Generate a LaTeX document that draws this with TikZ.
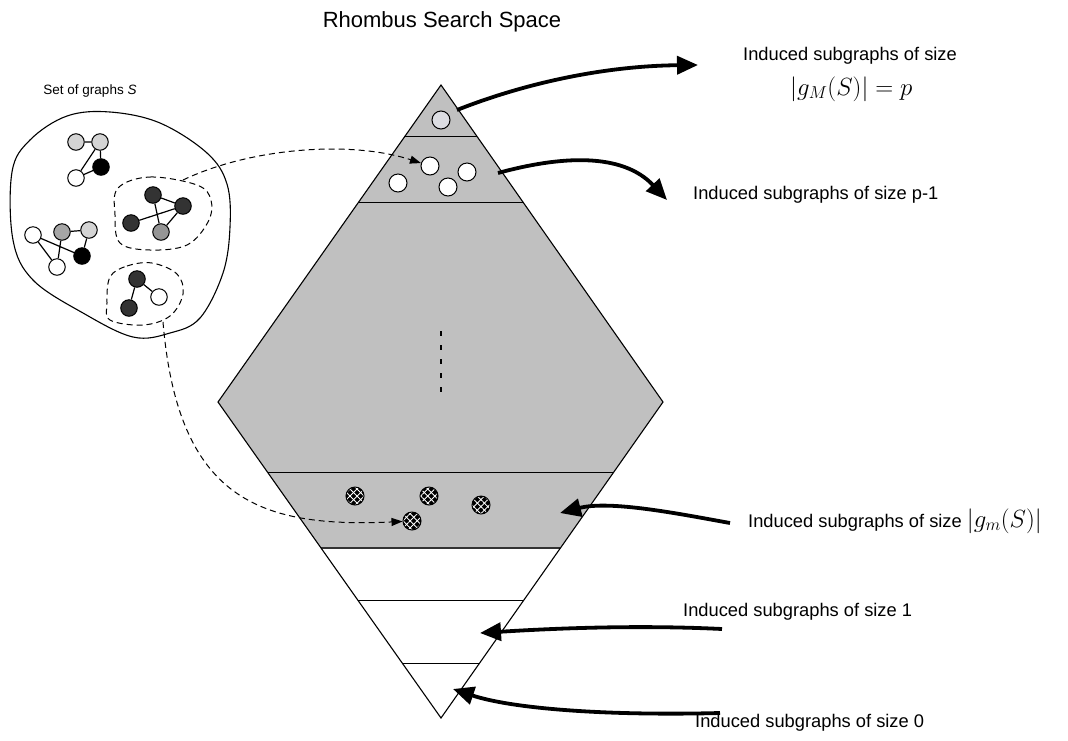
\documentclass[tikz,border=0pt]{standalone}
\usepackage[no-math]{fontspec}
\setmainfont{Liberation Sans}
\usetikzlibrary{calc,arrows.meta,patterns.meta}

\definecolor{rhgray}{HTML}{C0C0C0}
\definecolor{palegray}{HTML}{DCDDE2}
\definecolor{lightv}{HTML}{D4D4D4}
\definecolor{midv}{HTML}{A6A6A6}
\definecolor{darkv}{HTML}{333333}

\begin{document}
\begin{tikzpicture}[x=1pt,y=-1pt,
  rim/.style={line width=1.1pt},
  band/.style={line width=1pt},
  dot/.style={circle,draw,line width=1pt,minimum size=18pt,inner sep=0pt,fill=white},
  vx/.style={circle,draw,line width=1pt,minimum size=16.5pt,inner sep=0pt},
  edge/.style={line width=1.2pt},
  hatch/.style={circle,draw,line width=1pt,minimum size=18pt,inner sep=0pt,fill=black,
    path picture={
      \fill[pattern={Lines[angle=45,distance=5pt,line width=0.9pt]},pattern color=white]
        (path picture bounding box.south west) rectangle (path picture bounding box.north east);
      \fill[pattern={Lines[angle=-45,distance=5pt,line width=0.9pt]},pattern color=white]
        (path picture bounding box.south west) rectangle (path picture bounding box.north east);}},
  bigarrow/.style={line width=3.8pt,-{Triangle[length=21pt,width=18pt]}},
  dasharrow/.style={line width=1pt,dash pattern=on 6pt off 4pt,-{Triangle[length=11pt,width=8pt]}},
  lbl/.style={font=\fontsize{18.3}{21}\selectfont,anchor=west,inner sep=0pt},
  grp/.style={line width=1pt,dash pattern=on 6pt off 4pt}
]
\useasboundingbox (0,0) rectangle (1068,740);

% ---- the rhombus ----
\coordinate (T) at (441,85);
\coordinate (L) at (218,402);
\coordinate (R) at (663,402);
\coordinate (B) at (441,718);

\fill[rhgray] (T) -- (R) -- ($(B)!0.538!(R)$) -- ($(B)!0.538!(L)$) -- (L) -- cycle;
\draw[band] ($(T)!0.164!(L)$) -- ($(T)!0.164!(R)$);
\draw[band] ($(T)!0.372!(L)$) -- ($(T)!0.372!(R)$);
\draw[band] ($(B)!0.778!(L)$) -- ($(B)!0.778!(R)$);
\draw[line width=1.7pt,black!80] ($(B)!0.538!(L)$) -- ($(B)!0.538!(R)$);
\draw[band] ($(B)!0.373!(L)$) -- ($(B)!0.373!(R)$);
\draw[band] ($(B)!0.174!(L)$) -- ($(B)!0.174!(R)$);
\draw[rim,line join=miter] (T) -- (R) -- (B) -- (L) -- cycle;

% vertical ellipsis
\draw[line width=2.2pt,dash pattern=on 5pt off 9pt] (441,331) -- (441,396);

% subgraphs of the top bands
\node[dot,fill=palegray] (top) at (441,120) {};
\node[dot] (w1) at (430,166) {};
\node[dot] (w2) at (398,183) {};
\node[dot] (w3) at (448,187) {};
\node[dot] (w4) at (467,172) {};

% subgraphs of size |g_m(S)|
\node[hatch] (x1) at (355,496) {};
\node[hatch] (x2) at (429,496) {};
\node[hatch] (x3) at (481,505) {};
\node[hatch] (x4) at (412,521) {};

% ---- the set of graphs S ----
\node[font=\fontsize{13.5}{16}\selectfont] (setS) at (90,91) {Set of graphs \textit{S}};
\draw[line width=1.1pt] plot[smooth cycle,tension=0.6] coordinates {
  (12,172) (30,140) (67,116) (110,112) (160,123) (207,153) (227,184) (230,227)
  (223,273) (200,318) (170,333) (133,337) (83,313) (33,280) (13,240)};

\draw[grp] plot[smooth cycle,tension=0.6] coordinates {
  (118,188) (150,177) (197,185) (211,200) (208,222) (187,245) (150,250) (120,243) (115,215)};
\draw[grp] plot[smooth cycle,tension=0.6] coordinates {
  (110,277) (127,266) (152,263) (177,274) (183,294) (170,316) (143,325) (110,320) (107,303)};

% graph 1
\node[vx,fill=lightv] (a) at (76,142) {};
\node[vx,fill=lightv] (b) at (100,142) {};
\node[vx,fill=black] (c) at (101,167) {};
\node[vx,fill=white] (d) at (76,178) {};
\draw[edge] (a) -- (b) (b) -- (c) (b) -- (d) (c) -- (d);

% graph 2
\node[vx,fill=darkv] (e) at (153,195) {};
\node[vx,fill=darkv] (f) at (183,206) {};
\node[vx,fill=darkv] (g) at (131,223) {};
\node[vx,fill=midv!90!black] (h) at (161,232) {};
\draw[edge] (e) -- (f) (e) -- (h) (f) -- (h) (g) -- (f);

% graph 3
\node[vx,fill=white] (i) at (33,235) {};
\node[vx,fill=midv] (j) at (62,232) {};
\node[vx,fill=lightv] (k) at (89,230) {};
\node[vx,fill=black] (l) at (82,256) {};
\node[vx,fill=white] (m) at (57,267) {};
\draw[edge] (j) -- (k) (i) -- (l) (i) -- (m) (j) -- (m) (k) -- (l);

% graph 4
\node[vx,fill=darkv] (n) at (137,279) {};
\node[vx,fill=white] (o) at (159,297) {};
\node[vx,fill=darkv] (q) at (129,308) {};
\draw[edge] (n) -- (o) (n) -- (q);

% links from the set to the rhombus
\coordinate (s1) at (183,180);
\coordinate (s2) at (163,322);
\draw[dasharrow] (s1) .. controls (250,148) and (350,140) .. (w1);
\draw[dasharrow] (s2) .. controls (178,500) and (260,528) .. (x4);

% ---- title and labels ----
\node[font=\fontsize{22}{26}\selectfont] (title) at (442,22) {Rhombus Search Space};

\node[lbl] (lab1) at (743,56) {Induced subgraphs of size};
\node[anchor=west,inner sep=0pt,font=\fontsize{27}{30}\selectfont] (lab1m) at (790,89) {$|g_M(S)| = p$};
\node[lbl] (lab2) at (693,195) {Induced subgraphs of size p-1};
\node[lbl] (lab3) at (748,521) {Induced subgraphs of size {\fontsize{26}{28}\selectfont$|g_m(S)|$}};
\node[lbl] (lab4) at (683,612) {Induced subgraphs of size 1};
\node[lbl] (lab5) at (695,723) {Induced subgraphs of size 0};

% arrows from the bands to the labels
\coordinate (p1) at (457,110);  \coordinate (q1) at (698,65);
\coordinate (p2) at (498,173);  \coordinate (q2) at (667,200);
\coordinate (p3) at (730,523);  \coordinate (q3) at (560,513);
\coordinate (p4) at (722,629);  \coordinate (q4) at (480,633);
\coordinate (p5) at (720,713);  \coordinate (q5) at (453,689);
\draw[bigarrow] (p1) .. controls (520,85) and (600,66) .. (q1);
\draw[bigarrow] (p2) .. controls (560,156) and (622,152) .. (q2);
\draw[bigarrow] (p3) .. controls (680,514) and (610,500) .. (q3);
\draw[bigarrow] (p4) .. controls (640,625) and (560,628) .. (q4);
\draw[bigarrow] (p5) .. controls (600,716) and (510,708) .. (q5);
\end{tikzpicture}
\end{document}
